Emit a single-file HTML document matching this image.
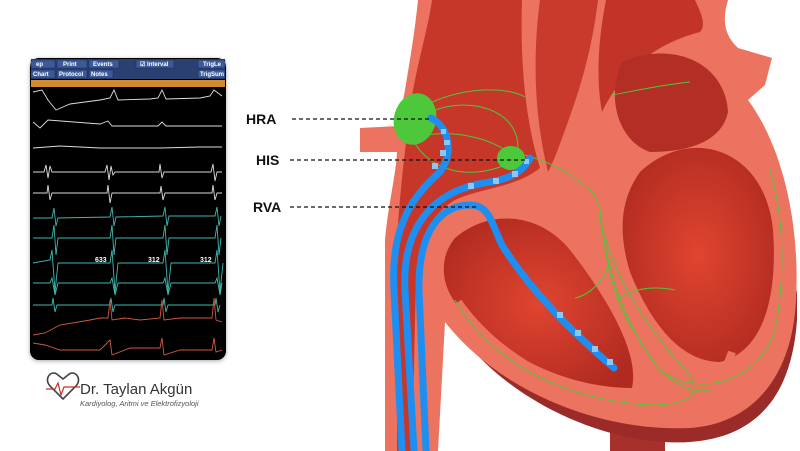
<!DOCTYPE html>
<html><head><meta charset="utf-8"><style>
html,body{margin:0;padding:0;background:#fff;width:800px;height:451px;overflow:hidden}
svg{display:block}
</style></head><body>
<svg width="800" height="451" viewBox="0 0 800 451" xmlns="http://www.w3.org/2000/svg" font-family="Liberation Sans, sans-serif">
<defs>
<radialGradient id="rg" cx="0.5" cy="0.5" r="0.6"><stop offset="0" stop-color="#e04530"/><stop offset="1" stop-color="#b02a20"/></radialGradient>
<filter id="sh" x="-10%" y="-10%" width="120%" height="120%"><feDropShadow dx="0" dy="1" stdDeviation="2" flood-opacity="0.35"/></filter>
</defs>
<!-- HEART -->
<rect x="610" y="425" width="55" height="26" fill="#a8302a"/>
<path d="M440,300 C480,390 600,448 690,442 C760,437 792,392 797,320 L797,290 C760,400 680,420 600,400 C520,380 470,340 440,300Z" fill="#9a2b28"/>
<path d="M418,0 L728,0 C722,20 724,35 738,48 L772,58 L765,85 L748,100 C785,150 800,230 796,300 C792,380 750,424 690,428 C600,432 500,392 445,322 L438,451 L385,451 L385,240 C388,205 396,175 397,152 L360,152 L360,128 L398,126 L405,90 C410,60 415,30 418,0Z" fill="#ec735f"/>
<!-- chambers -->
<path d="M432,0 L522,0 C520,60 525,120 540,168 C515,188 480,188 455,200 C430,215 418,240 416,280 L412,451 L397,451 L397,240 C400,190 405,150 410,110 C415,70 428,30 432,0Z" fill="#c6372a"/>
<path d="M540,0 L598,0 C592,50 580,90 565,130 C558,150 552,165 548,172 C535,120 532,60 540,0Z" fill="#c83a2c"/>
<path d="M606,0 L695,0 C702,15 706,25 700,32 C650,45 620,75 602,112 C596,80 598,40 606,0Z" fill="#c23428"/>
<path d="M455,238 C490,208 540,213 570,250 C605,295 640,352 632,388 C560,388 490,348 455,302 C440,282 440,256 455,238Z" fill="url(#rg)"/>
<path d="M622,62 C672,40 725,62 728,112 C722,140 692,152 650,152 C620,142 605,100 622,62Z" fill="#b32e24"/>
<path d="M640,172 C690,125 765,148 773,230 C778,300 762,352 720,362 C680,362 650,322 630,272 C618,232 620,200 640,172Z" fill="url(#rg)"/>
<path d="M458,302 C500,362 580,402 660,412 C700,408 722,382 732,352" fill="none" stroke="#ec735f" stroke-width="8"/>
<!-- green conduction -->
<g fill="none" stroke="#4cc83a" stroke-width="1">
<path d="M430,103 C470,85 510,88 525,97"/>
<path d="M430,112 C470,95 520,110 518,150"/>
<path d="M413,140 C430,172 470,180 505,165"/>
<path d="M425,135 C460,130 490,140 505,150"/>
<path d="M525,155 C560,165 580,180 595,195 L600,210 C605,250 610,300 640,340 C660,380 690,395 710,390"/>
<path d="M600,210 C605,260 620,320 660,370 C700,400 760,380 775,330 C785,280 785,220 770,170"/>
<path d="M600,220 C610,260 630,310 690,375 C700,395 690,405 650,405 C560,400 490,360 455,300"/>
<path d="M610,260 C605,280 590,295 575,298"/>
<path d="M615,300 C630,290 650,285 675,290"/>
<path d="M612,95 C640,90 660,85 690,82"/>
</g>
<ellipse cx="415" cy="119" rx="21" ry="26" fill="#4cc83a" transform="rotate(15 415 119)"/>
<ellipse cx="511" cy="158" rx="14" ry="12" fill="#4cc83a"/>
<!-- catheters -->
<g fill="none" stroke-linecap="round" stroke="#1e8ff0" stroke-width="7">
<path d="M402,451 L394,290 C390,220 418,192 440,172 C455,152 448,126 431,118"/>
<path d="M414,451 L405,290 C402,230 430,190 490,182 C515,178 525,168 530,158"/>
<path d="M426,451 L419,290 C418,232 440,205 470,205 C490,205 492,225 502,245 C530,290 570,330 614,368"/>
</g>
<g fill="#8cc8f5">
<rect x="440" y="150" width="6" height="6"/><rect x="444" y="140" width="6" height="5"/><rect x="441" y="129" width="5" height="5"/><rect x="432" y="163" width="6" height="6"/>
<rect x="468" y="183" width="6" height="6"/><rect x="493" y="178" width="6" height="6"/><rect x="512" y="171" width="6" height="6"/><rect x="524" y="159" width="5" height="5"/>
<rect x="557" y="312" width="6" height="6"/><rect x="575" y="330" width="6" height="6"/><rect x="592" y="346" width="6" height="6"/><rect x="607" y="359" width="6" height="6"/>
</g>
<!-- labels -->
<g stroke="#111" stroke-width="1.3" stroke-dasharray="4 3">
<line x1="292" y1="119" x2="430" y2="119"/>
<line x1="290" y1="160" x2="528" y2="160"/>
<line x1="290" y1="207" x2="478" y2="207"/>
</g>
<g font-size="14" font-weight="bold" fill="#111">
<text x="246" y="124">HRA</text><text x="256" y="165">HIS</text><text x="253" y="212">RVA</text>
</g>
<!-- MONITOR -->
<g filter="url(#sh)"><rect x="30" y="58" width="196" height="302" rx="9" fill="#050505"/></g>
<rect x="31" y="59" width="194" height="20" fill="#2a3f72"/>
<g fill="#3c5a9a" stroke="#1a2a55" stroke-width="0.5">
<rect x="31" y="60" width="24" height="8"/><rect x="57" y="60" width="30" height="8"/><rect x="89" y="60" width="30" height="8"/>
<rect x="31" y="70" width="24" height="8"/><rect x="57" y="70" width="30" height="8"/><rect x="89" y="70" width="24" height="8"/>
<rect x="136" y="60" width="38" height="8"/><rect x="198" y="60" width="27" height="8"/><rect x="198" y="70" width="27" height="8"/>
</g>
<g font-size="6" fill="#fff" font-weight="bold">
<text x="36" y="66">ep</text><text x="63" y="66">Print</text><text x="93" y="66">Events</text>
<text x="33" y="76">Chart</text><text x="59" y="76">Protocol</text><text x="91" y="76">Notes</text>
<text x="140" y="66">☑ Interval</text><text x="203" y="66">TrigLe</text><text x="200" y="76">TrigSum</text>
</g>
<rect x="31" y="80" width="194" height="7" fill="#d08a30"/>
<g fill="none" stroke-width="0.9">
<g stroke="#ddd">
<polyline points="33,92 42,90 48,100 56,110 70,104 100,100 110,98 114,90 118,100 150,99 158,98 162,90 166,99 200,98 210,96 214,90 222,96"/>
<polyline points="33,122 40,128 48,120 100,124 108,121 112,126 150,126 158,126 162,122 166,126 222,126"/>
<polyline points="33,148 60,146 100,148 160,148 200,147 222,147"/>
<polyline points="33,172 44,172 46,165 48,178 50,166 52,172 105,172 107,165 109,180 111,166 113,175 115,172 159,172 160,164 162,178 164,172 211,172 213,164 215,181 217,172 222,172"/>
<polyline points="33,193 47,193 48,185 50,200 52,193 107,193 108,185 110,203 112,193 160,193 161,186 163,200 165,193 212,193 213,185 215,200 217,193 222,193"/>
</g>
<g stroke="#3fb9b0">
<polyline points="33,218 52,218 54,208 56,226 58,218 110,217 112,207 114,226 116,217 163,216 165,207 167,226 169,216 215,216 217,207 219,226 221,216"/>
<polyline points="33,238 52,238 54,225 56,255 58,238 110,238 112,225 114,255 116,238 163,238 165,225 167,255 169,238 215,238 217,225 219,255 221,238"/>
<polyline points="33,263 50,260 52,250 55,292 58,263 110,263 112,250 115,292 118,263 163,263 165,250 168,292 171,263 215,263 217,250 220,292 223,263"/>
<polyline points="33,283 50,283 52,278 55,295 58,283 110,283 112,278 115,295 118,283 163,283 165,278 168,295 171,283 215,283 217,278 220,295 222,283"/>
<polyline points="33,305 52,305 53,298 55,312 57,305 110,305 111,298 113,312 115,305 163,305 164,298 166,312 168,305 215,305 216,298 218,312 220,305"/>
</g>
<g stroke="#d05a40">
<polyline points="33,335 45,333 60,325 90,320 100,318 108,318 110,300 112,320 125,318 140,320 160,318 162,300 164,320 180,318 212,318 214,298 216,320 222,322"/>
<polyline points="33,343 45,345 60,350 100,350 110,340 112,355 130,348 160,348 162,338 164,355 180,350 212,350 214,338 216,352 222,350"/>
</g>
</g>
<g font-size="7" font-weight="bold" fill="#fff">
<text x="95" y="262">633</text><text x="148" y="262">312</text><text x="200" y="262">312</text>
</g>
<!-- LOGO -->
<path d="M63,399 L50,386 C43,378 52,369 58,375 L63,379 L68,375 C74,369 83,378 76,386 Z" fill="none" stroke="#444" stroke-width="1.6"/>
<polyline points="46,389 55,389 58,383 61,395 64,387 80,387" fill="none" stroke="#c03030" stroke-width="1.2"/>
<text x="80" y="394" font-size="15" fill="#333">Dr. Taylan Akgün</text>
<text x="80" y="406" font-size="7.5" font-style="italic" fill="#555">Kardiyolog, Aritmi ve Elektrofizyoloji</text>
</svg>
</body></html>
